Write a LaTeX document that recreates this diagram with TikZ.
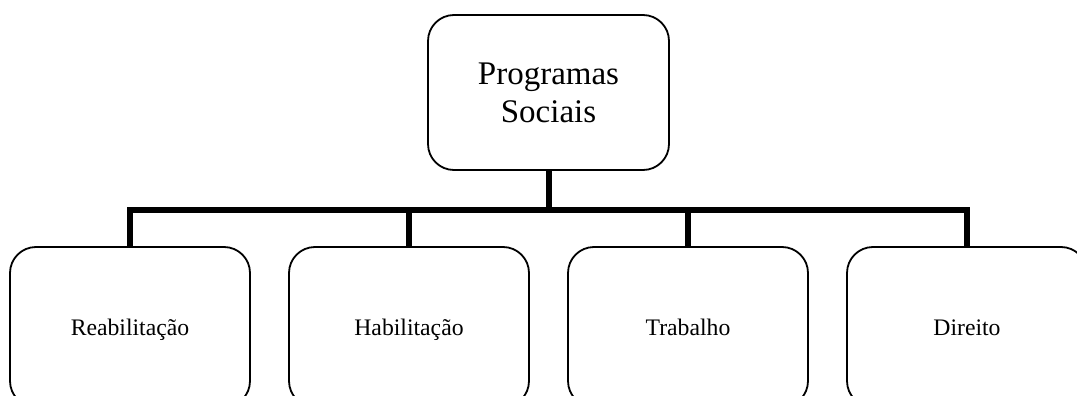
\documentclass[tikz,border=0pt]{standalone}
\usepackage{fontspec}
\setmainfont{Liberation Serif}
\begin{document}
\begin{tikzpicture}[x=1pt,y=-1pt,
  box/.style={draw=black, line width=1.8pt, rounded corners=26pt, inner sep=0pt, align=center},
  topbox/.style={box, minimum width=241pt, minimum height=155pt, font=\fontsize{33}{38}\selectfont},
  leaf/.style={box, minimum width=240pt, minimum height=160pt, text height=16pt, text depth=0pt, font=\fontsize{23.7}{28}\selectfont},
  conn/.style={draw=black, line width=6pt, line join=miter, line cap=butt}]
\useasboundingbox (0,0) rectangle (1077,396);
\clip (0,0) rectangle (1077,396);
\node[topbox] (top) at (548.5,92.5) {Programas\\Sociais};
\node[leaf] (b1) at (130,327) {Reabilitação};
\node[leaf] (b2) at (409,327) {Habilitação};
\node[leaf] (b3) at (688,327) {Trabalho};
\node[leaf] (b4) at (967,327) {Direito};
\coordinate (bar) at (548.5,210);
\draw[conn] (top.south) -- (bar);
\draw[conn] (b1.north) -- (b1.north |- bar) -- (b4.north |- bar) -- (b4.north);
\draw[conn] (b2.north) -- (b2.north |- bar);
\draw[conn] (b3.north) -- (b3.north |- bar);
\end{tikzpicture}
\end{document}
